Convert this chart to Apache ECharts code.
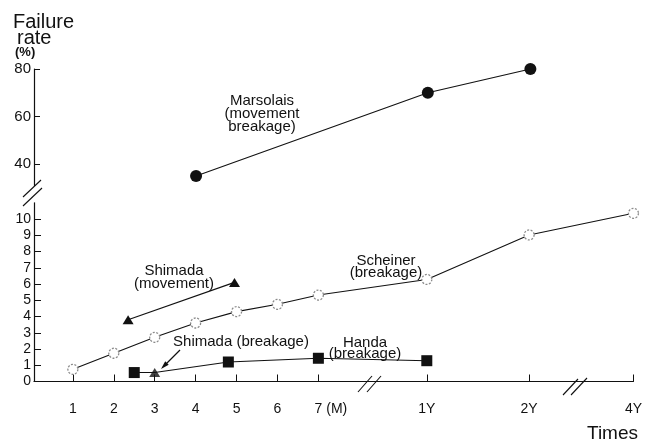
<!DOCTYPE html>
<html>
<head>
<meta charset="utf-8">
<script src="https://cdn.jsdelivr.net/npm/echarts@6/dist/echarts.min.js"></script>
<style>
html,body{margin:0;padding:0;background:#fff;}
#chart{width:645px;height:442px;}
</style>
</head>
<body>
<div id="chart"></div>
<script>
// ---- data ----
const tickPositions = [1, 2, 3, 4, 5, 6, 7, 9.65, 12.15, 14.7];
const tickLabels = ['1', '2', '3', '4', '5', '6', '7 (M)', '1Y', '2Y', '4Y'];
const lowerYTicks = [0, 1, 2, 3, 4, 5, 6, 7, 8, 9, 10];
const upperYTicks = [40, 60, 80];

const marsolaisX = [4, 9.65, 12.15];
const marsolaisY = [35, 70, 80];

const scheinerX = [1, 2, 3, 4, 5, 6, 7, 9.65, 12.15, 14.7];
const scheinerY = [0.75, 1.74, 2.72, 3.6, 4.3, 4.75, 5.32, 6.28, 9.02, 10.35];

const shimadaMoveX = [2.35, 4.95];
const shimadaMoveY = [3.8, 6.1];

const shimadaBreakX = [3];
const shimadaBreakY = [0.55];

const handaX = [2.5, 3, 4.8, 7, 9.65];
const handaY = [0.55, 0.55, 1.2, 1.43, 1.28];
const handaMarked = [true, false, true, true, true];

// ---- helpers ----
const pairs = (xs, ys) => xs.map((x, i) => [x, ys[i]]);
const FONT = '"Liberation Sans", Arial, Helvetica, sans-serif';
const INK = '#111';
const X_MIN = 0.05, X_MAX = 14.7;

const chart = echarts.init(document.getElementById('chart'), null, {renderer: 'canvas'});

function xLabel(v) {
  const i = tickPositions.findIndex(p => Math.abs(p - v) < 1e-6);
  if (i < 0) return '';
  const t = tickLabels[i];
  if (t.indexOf(' ') > 0) {
    const parts = t.split(' ');
    return '{pad|}' + parts[0] + ' ' + parts.slice(1).join(' ');
  }
  return t;
}

const lineStyle = {color: INK, width: 1.1};

const option = {
  animation: false,
  backgroundColor: '#fff',
  grid: [
    {left: 34, right: 10, top: 69, height: 116.4},
    {left: 34, right: 10, top: 202.75, height: 178.75}
  ],
  xAxis: [
    {gridIndex: 0, type: 'value', min: X_MIN, max: X_MAX, show: false, splitLine: {show: false}},
    {
      gridIndex: 1, type: 'value', min: X_MIN, max: X_MAX,
      splitLine: {show: false},
      axisLine: {show: true, lineStyle: {color: INK, width: 1.2}},
      axisTick: {show: true, inside: true, length: 7, customValues: tickPositions, lineStyle: {color: INK, width: 1}},
      axisLabel: {
        customValues: tickPositions, margin: 21, color: INK,
        fontFamily: FONT, fontSize: 14,
        formatter: xLabel,
        rich: {pad: {width: 25}}
      }
    }
  ],
  yAxis: [
    {
      gridIndex: 0, type: 'value', min: 31, max: 80,
      splitLine: {show: false},
      axisLine: {show: true, lineStyle: {color: INK, width: 1.2}},
      axisTick: {show: true, inside: true, length: 6, customValues: upperYTicks, lineStyle: {color: INK}},
      axisLabel: {customValues: upperYTicks, margin: 3, color: INK, fontFamily: FONT, fontSize: 15}
    },
    {
      gridIndex: 1, type: 'value', min: 0, max: 11,
      splitLine: {show: false},
      axisLine: {show: true, lineStyle: {color: INK, width: 1.2}},
      axisTick: {show: true, inside: true, length: 7, customValues: lowerYTicks, lineStyle: {color: INK}},
      axisLabel: {customValues: lowerYTicks, margin: 3, color: INK, fontFamily: FONT, fontSize: 14}
    }
  ],
  series: [
    {
      name: 'Marsolais', type: 'line', xAxisIndex: 0, yAxisIndex: 0,
      data: pairs(marsolaisX, marsolaisY),
      symbol: 'circle', symbolSize: 12,
      itemStyle: {color: INK}, lineStyle: lineStyle
    },
    {
      name: 'Scheiner', type: 'line', xAxisIndex: 1, yAxisIndex: 1,
      data: pairs(scheinerX, scheinerY),
      symbol: 'circle', symbolSize: 10,
      itemStyle: {color: '#fff', borderColor: '#8a8a8a', borderWidth: 1.3, borderType: [2, 1.5]},
      lineStyle: lineStyle, z: 3
    },
    {
      name: 'Shimada (movement)', type: 'line', xAxisIndex: 1, yAxisIndex: 1,
      data: pairs(shimadaMoveX, shimadaMoveY),
      symbol: 'triangle', symbolSize: [11, 9],
      itemStyle: {color: INK}, lineStyle: lineStyle
    },
    {
      name: 'Handa (breakage)', type: 'line', xAxisIndex: 1, yAxisIndex: 1,
      data: handaX.map((x, i) => ({value: [x, handaY[i]], symbol: handaMarked[i] ? 'rect' : 'none'})),
      symbol: 'rect', symbolSize: 11,
      itemStyle: {color: INK}, lineStyle: lineStyle
    },
    {
      name: 'Shimada (breakage)', type: 'scatter', xAxisIndex: 1, yAxisIndex: 1,
      data: pairs(shimadaBreakX, shimadaBreakY),
      symbol: 'triangle', symbolSize: [11, 9],
      itemStyle: {color: INK}, z: 4
    }
  ],
  graphic: [
    // Y axis title
    {type: 'text', left: 13, top: 12, style: {text: 'Failure', font: '20px ' + FONT, fill: INK}},
    {type: 'text', left: 17, top: 28, style: {text: 'rate', font: '20px ' + FONT, fill: INK}},
    {type: 'text', left: 15, top: 46, style: {text: '(%)', font: 'bold 13px ' + FONT, fill: INK}},
    // X axis title
    {type: 'text', left: 587, top: 424, style: {text: 'Times', font: '19px ' + FONT, fill: INK}},
    // annotations
    {type: 'text', x: 262, y: 114, style: {text: 'Marsolais\n(movement\nbreakage)', font: '15px ' + FONT, fill: INK, align: 'center', verticalAlign: 'middle', lineHeight: 13}},
    {type: 'text', x: 174, y: 277, style: {text: 'Shimada\n(movement)', font: '15px ' + FONT, fill: INK, align: 'center', verticalAlign: 'middle', lineHeight: 13}},
    {type: 'text', x: 386, y: 267, style: {text: 'Scheiner\n(breakage)', font: '15px ' + FONT, fill: INK, align: 'center', verticalAlign: 'middle', lineHeight: 12}},
    {type: 'text', x: 241, y: 342, style: {text: 'Shimada (breakage)', font: '15px ' + FONT, fill: INK, align: 'center', verticalAlign: 'middle'}},
    {type: 'text', x: 365, y: 348, style: {text: 'Handa\n(breakage)', font: '15px ' + FONT, fill: INK, align: 'center', verticalAlign: 'middle', lineHeight: 11}},
    // arrow to Shimada (breakage)
    {type: 'line', shape: {x1: 180, y1: 350, x2: 165, y2: 365}, style: {stroke: INK, lineWidth: 1.2}},
    {type: 'polygon', shape: {points: [[161, 369], [168.7, 364.8], [165.2, 361.3]]}, style: {fill: INK}},
    // y axis break marks
    {type: 'rect', shape: {x: 28, y: 187, width: 12, height: 14}, style: {fill: '#fff'}},
    {type: 'line', shape: {x1: 23, y1: 197, x2: 41, y2: 180}, style: {stroke: INK, lineWidth: 1.1}},
    {type: 'line', shape: {x1: 23, y1: 206, x2: 42, y2: 188}, style: {stroke: INK, lineWidth: 1.1}},
    // x axis break marks
    {type: 'line', shape: {x1: 358, y1: 392, x2: 372, y2: 376}, style: {stroke: INK, lineWidth: 1.1}},
    {type: 'line', shape: {x1: 367, y1: 392, x2: 381, y2: 376}, style: {stroke: INK, lineWidth: 1.1}},
    {type: 'line', shape: {x1: 563, y1: 395, x2: 578, y2: 379}, style: {stroke: INK, lineWidth: 1.1}},
    {type: 'line', shape: {x1: 571, y1: 395, x2: 587, y2: 378}, style: {stroke: INK, lineWidth: 1.1}}
  ]
};
chart.setOption(option);
</script>
</body>
</html>
